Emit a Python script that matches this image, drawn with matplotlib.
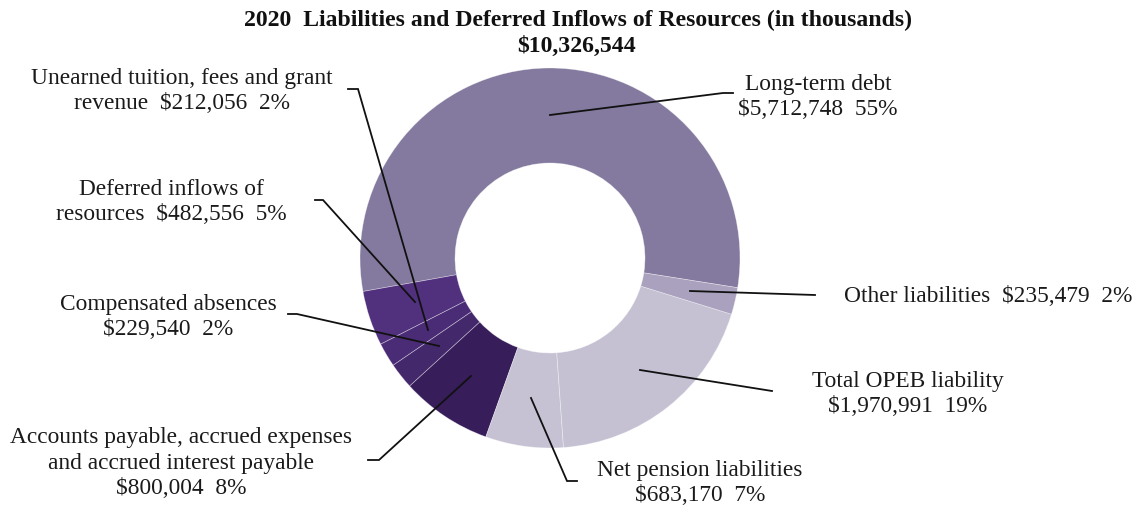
import matplotlib
matplotlib.use("Agg")
import matplotlib.pyplot as plt

plt.rcParams['font.family'] = ['Liberation Serif', 'DejaVu Serif']

# data (in thousands), in drawing order (counter-clockwise from the right)
categories = ['Long-term debt', 'Deferred inflows of resources',
              'Unearned tuition, fees and grant revenue', 'Compensated absences',
              'Accounts payable, accrued expenses and accrued interest payable',
              'Net pension liabilities', 'Total OPEB liability', 'Other liabilities']
values = [5712748, 482556, 212056, 229540, 800004, 683170, 1970991, 235479]
percents = [55, 5, 2, 2, 8, 7, 19, 2]
colors = ['#84799E', '#51307E', '#4A2B75', '#44286C', '#371D5A',
          '#C6C2D4', '#C5C1D3', '#A9A1BE']
total = sum(values)

W, H = 1142, 508
fig = plt.figure(figsize=(W / 100, H / 100), dpi=100)
ax = fig.add_axes([0, 0, 1, 1])


def py(y):
    # pixel row -> data y
    return H - y


ax.pie(values, colors=colors, startangle=-9, counterclock=True,
       center=(550, py(258)), radius=190, frame=True,
       wedgeprops=dict(width=95, edgecolor=(1, 1, 1, 0.45), linewidth=0.5))
ax.set_xlim(0, W)
ax.set_ylim(0, H)
ax.set_aspect('equal')
ax.axis('off')


def money(v):
    return '${:,}'.format(v)


txt = dict(fontsize=16.8, color='#1a1a1a', ha='center', va='center', linespacing=1.28)

labels = {
    'Long-term debt': ('Long-term debt\n{}  {}%', 818, 97),
    'Deferred inflows of resources': ('Deferred inflows of\nresources  {}  {}%', 171, 202),
    'Unearned tuition, fees and grant revenue': ('Unearned tuition, fees and grant\nrevenue  {}  {}%', 182, 91),
    'Compensated absences': ('Compensated absences\n{}  {}%', 168, 317),
    'Accounts payable, accrued expenses and accrued interest payable':
        ('Accounts payable, accrued expenses\nand accrued interest payable\n{}  {}%', 181, 463),
    'Net pension liabilities': ('Net pension liabilities\n{}  {}%', 700, 483),
    'Total OPEB liability': ('Total OPEB liability\n{}  {}%', 908, 394),
    'Other liabilities': ('Other liabilities  {}  {}%', 988, 296),
}
leaders = {
    'Long-term debt': [(550, 115), (723, 93), (733, 93)],
    'Deferred inflows of resources': [(415, 302), (323, 200), (315, 200)],
    'Unearned tuition, fees and grant revenue': [(428, 330), (358, 89), (348, 89)],
    'Compensated absences': [(439, 346), (297, 314), (288, 314)],
    'Accounts payable, accrued expenses and accrued interest payable':
        [(471, 376), (379, 460), (368, 460)],
    'Net pension liabilities': [(531, 398), (567, 481), (577, 481)],
    'Total OPEB liability': [(640, 370), (772, 391)],
    'Other liabilities': [(690, 291), (815, 295)],
}

for cat, v, p in zip(categories, values, percents):
    fmt, x, y = labels[cat]
    ax.text(x, py(y), fmt.format(money(v), p), **txt)
    pts = leaders[cat]
    ax.plot([q[0] for q in pts], [py(q[1]) for q in pts], color='#111111', lw=1.3,
            solid_joinstyle='miter')

ax.text(578, py(20), '2020  Liabilities and Deferred Inflows of Resources (in thousands)',
        fontsize=17.1, fontweight='bold', ha='center', va='center', color='#111111')
ax.text(577, py(46), money(total), fontsize=17.1, fontweight='bold',
        ha='center', va='center', color='#111111')

fig.savefig('out.png', dpi=100)
